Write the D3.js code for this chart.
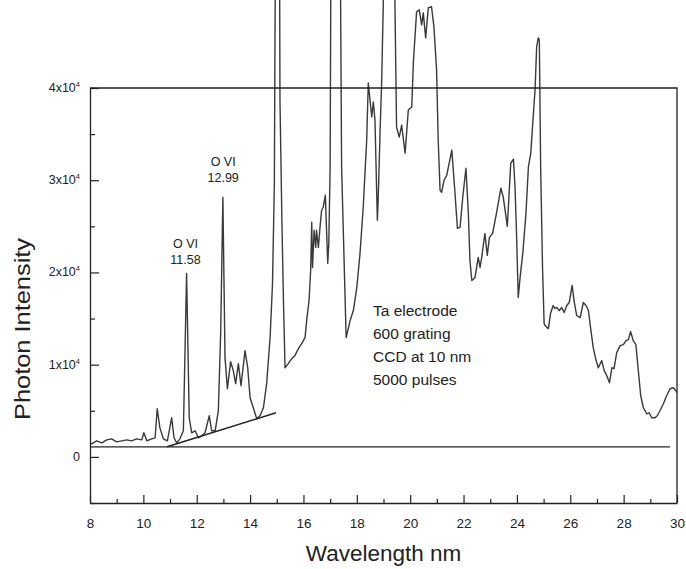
<!DOCTYPE html>
<html>
<head>
<meta charset="utf-8">
<script src="https://cdn.jsdelivr.net/npm/d3@7"></script>
<style>
  html, body { margin: 0; padding: 0; background: #fff; }
  svg { display: block; font-family: "Liberation Sans", Arial, sans-serif; }
</style>
</head>
<body>
<svg id="chart" width="686" height="569"></svg>
<script>
// ---- data ----
const wavelength = [
  8.00, 8.06, 8.25, 8.44, 8.63, 8.81, 9.00, 9.19, 9.38, 9.56, 9.75, 9.94, 10.02, 10.13, 10.31, 10.44,
  10.52, 10.62, 10.75, 10.90, 11.06, 11.15, 11.25, 11.37, 11.50, 11.62, 11.72, 11.81, 11.94, 12.06,
  12.19, 12.31, 12.47, 12.56, 12.69, 12.81, 12.90, 12.98, 13.06, 13.15, 13.27, 13.37, 13.46, 13.56,
  13.66, 13.81, 13.91, 14.00, 14.12, 14.25, 14.37, 14.50, 14.62, 14.75, 14.84, 14.91, 14.97, 15.09,
  15.12, 15.19, 15.25, 15.31, 15.43, 15.56, 15.68, 15.81, 15.93, 16.06, 16.12, 16.21, 16.27, 16.31,
  16.34, 16.40, 16.46, 16.49, 16.56, 16.62, 16.68, 16.74, 16.82, 16.87, 16.91, 16.95, 17.00, 17.05,
  17.35, 17.43, 17.60, 17.75, 17.87, 18.00, 18.12, 18.24, 18.37, 18.43, 18.56, 18.62, 18.68, 18.77,
  18.80, 18.87, 18.93, 18.99, 19.04, 19.38, 19.43, 19.49, 19.59, 19.68, 19.81, 19.93, 20.06, 20.12,
  20.24, 20.34, 20.43, 20.49, 20.58, 20.68, 20.80, 20.89, 20.99, 21.05, 21.12, 21.18, 21.27, 21.37,
  21.56, 21.68, 21.77, 21.87, 21.97, 22.09, 22.18, 22.24, 22.31, 22.43, 22.55, 22.62, 22.68, 22.80,
  22.89, 22.97, 23.09, 23.24, 23.40, 23.49, 23.64, 23.77, 23.87, 23.93, 23.99, 24.05, 24.12, 24.22,
  24.34, 24.43, 24.52, 24.61, 24.68, 24.74, 24.80, 24.84, 24.89, 24.96, 25.02, 25.05, 25.18, 25.26,
  25.36, 25.42, 25.49, 25.59, 25.68, 25.77, 25.87, 25.96, 26.07, 26.14, 26.24, 26.37, 26.49, 26.59,
  26.68, 26.76, 26.86, 26.97, 27.05, 27.18, 27.27, 27.37, 27.47, 27.56, 27.64, 27.74, 27.87, 27.99,
  28.09, 28.18, 28.26, 28.36, 28.46, 28.55, 28.64, 28.74, 28.87, 28.96, 29.05, 29.18, 29.26, 29.36,
  29.49, 29.61, 29.74, 29.86, 29.96, 30.00
];
const intensity = [
  1520, 1410, 1740, 1520, 1850, 1960, 1630, 1740, 1850, 1740, 1960, 1850, 2610, 1740, 1960, 2070,
  5220, 3150, 1960, 1740, 4240, 2070, 1520, 1960, 2830, 19900, 4240, 2610, 2830, 2070,
  2280, 2610, 4460, 2830, 2830, 5000, 13700, 28150, 10760, 7390, 10330, 9350, 7940, 10110,
  7720, 11520, 9670, 6410, 5330, 4130, 4460, 5330, 7940, 12940, 18800, 29680, 70000, 70000,
  38700, 25980, 16960, 9670, 10110, 10650, 10980, 11740, 12280, 12940, 14780, 16960, 20220, 25440,
  20540, 24570, 22720, 24570, 22720, 24890, 26740, 27070, 28370, 24240, 20980, 23150, 31410, 70000,
  70000, 31410, 12940, 14780, 15870, 18370, 22070, 27070, 34350, 40550, 36850, 38480, 36520, 25650,
  27830, 35110, 40550, 48810, 70000, 70000, 48810, 35760, 34680, 35980, 32940, 37610, 37940, 42830,
  48260, 48480, 46850, 48150, 45440, 48700, 48810, 46630, 41960, 34350, 28910, 28700, 30000, 30540,
  33260, 28590, 24780, 24890, 28150, 31300, 26410, 21300, 19130, 19460, 21630, 20540, 21630, 24240,
  21850, 23800, 24240, 26520, 29130, 28150, 25000, 31850, 32280, 29240, 23800, 17280, 19460, 22070,
  26410, 31410, 32940, 36850, 39780, 44460, 45440, 45220, 31410, 20540, 14460, 14240, 13910, 15540,
  16410, 16090, 16200, 15870, 16200, 15650, 16410, 16740, 18590, 16960, 15330, 15110, 16740, 16410,
  15870, 14020, 11850, 10440, 9670, 10440, 9350, 8800, 8040, 9670, 9570, 11300, 12070, 12170,
  12610, 12720, 13590, 12610, 12170, 9350, 6630, 5330, 4670, 4780, 4240, 4240, 4460, 5000,
  5760, 6630, 7390, 7500, 7170, 6960
];
// reference lines drawn on the plot
const baselineX = [8, 29.74];
const baselineY = [1090, 1090];
const slantX = [10.89, 14.97];
const slantY = [1090, 4780];

// axes
const xDomain = [8, 30];
const yDomain = [-5000, 40000];
const xMajorTicks = [8, 10, 12, 14, 16, 18, 20, 22, 24, 26, 28, 30];
const xMinorTicks = [9, 11, 13, 15, 17, 19, 21, 23, 25, 27, 29];
const yMajorTicks = [0, 10000, 20000, 30000, 40000];
const yMajorLabels = ["0", "1x10", "2x10", "3x10", "4x10"];
const yMajorExps = ["", "4", "4", "4", "4"];
const yMinorTicks = [-5000, 5000, 15000, 25000, 35000];

// annotations
const peakLabels = [
  { name: "O VI", value: "11.58", x: 11.58, y: 22600 },
  { name: "O VI", value: "12.99", x: 12.99, y: 31500 }
];
const infoLines = ["Ta electrode", "600 grating", "CCD at 10 nm", "5000 pulses"];
const xTitle = "Wavelength nm";
const yTitle = "Photon Intensity";

// ---- drawing ----
const W = 686, H = 569;
const margin = { left: 90, right: 9, top: 88, bottom: 66 };
const svg = d3.select("#chart");
const x = d3.scaleLinear().domain(xDomain).range([margin.left, W - margin.right]);
const y = d3.scaleLinear().domain(yDomain).range([H - margin.bottom, margin.top]);

const axisColor = "#222";
const textColor = "#222";

// data line
const pts = wavelength.map((w, i) => [w, intensity[i]]);
svg.append("path")
  .datum(pts)
  .attr("fill", "none")
  .attr("stroke", "#3a3a3a")
  .attr("stroke-width", 1.4)
  .attr("stroke-linejoin", "round")
  .attr("d", d3.line().x(d => x(d[0])).y(d => y(d[1])));

// baseline and slanted background line
const line2 = d3.line().x(d => x(d[0])).y(d => y(d[1]));
svg.append("path")
  .datum(baselineX.map((v, i) => [v, baselineY[i]]))
  .attr("fill", "none").attr("stroke", axisColor).attr("stroke-width", 1.3)
  .attr("d", line2);
svg.append("path")
  .datum(slantX.map((v, i) => [v, slantY[i]]))
  .attr("fill", "none").attr("stroke", axisColor).attr("stroke-width", 1.5)
  .attr("d", line2);

// frame top and right
svg.append("path")
  .datum([[xDomain[0], yDomain[1]], [xDomain[1], yDomain[1]], [xDomain[1], yDomain[0]]])
  .attr("fill", "none").attr("stroke", axisColor).attr("stroke-width", 1.3)
  .attr("d", line2);

// x axis
const gx = svg.append("g").attr("transform", `translate(0,${H - margin.bottom})`);
gx.call(d3.axisBottom(x).tickValues(xMajorTicks).tickSizeInner(-8).tickSizeOuter(0).tickPadding(15)
  .tickFormat(d3.format("d")));
const gxm = svg.append("g").attr("transform", `translate(0,${H - margin.bottom})`);
gxm.call(d3.axisBottom(x).tickValues(xMinorTicks).tickSizeInner(-4).tickSizeOuter(0).tickFormat(""));
gxm.select(".domain").remove();

// y axis
const gy = svg.append("g").attr("transform", `translate(${margin.left},0)`);
gy.call(d3.axisLeft(y).tickValues(yMajorTicks).tickSizeInner(-9).tickSizeOuter(0).tickPadding(18)
  .tickFormat(""));
const gym = svg.append("g").attr("transform", `translate(${margin.left},0)`);
gym.call(d3.axisLeft(y).tickValues(yMinorTicks).tickSizeInner(-5).tickSizeOuter(0).tickFormat(""));
gym.select(".domain").remove();

svg.selectAll(".domain").attr("stroke", axisColor).attr("stroke-width", 1.3);
svg.selectAll(".tick line").attr("stroke", axisColor).attr("stroke-width", 1.2);

gx.selectAll(".tick text")
  .attr("font-size", 13.5).attr("fill", textColor)
  .attr("font-family", "Liberation Sans, Arial, sans-serif");

// y tick labels with superscript exponent
yMajorTicks.forEach((t, i) => {
  const tx = svg.append("text")
    .attr("x", 80).attr("y", y(t) + 4)
    .attr("text-anchor", "end")
    .attr("font-size", 12.5).attr("fill", textColor);
  tx.append("tspan").text(yMajorLabels[i]);
  if (yMajorExps[i]) {
    tx.append("tspan").attr("font-size", 7.5).attr("dy", -5).text(yMajorExps[i]);
  }
});

// axis titles
svg.append("text")
  .attr("x", x((xDomain[0] + xDomain[1]) / 2)).attr("y", 561)
  .attr("text-anchor", "middle").attr("font-size", 22.5).attr("fill", textColor)
  .text(xTitle);
svg.append("text")
  .attr("transform", `translate(30,329) rotate(-90)`)
  .attr("text-anchor", "middle").attr("font-size", 22.5).attr("fill", textColor)
  .attr("textLength", 182).attr("lengthAdjust", "spacingAndGlyphs")
  .text(yTitle);

// peak annotations
peakLabels.forEach(p => {
  svg.append("text").attr("x", x(p.x)).attr("y", y(p.y))
    .attr("text-anchor", "middle").attr("font-size", 12.5).attr("fill", textColor)
    .text(p.name);
  svg.append("text").attr("x", x(p.x)).attr("y", y(p.y) + 16)
    .attr("text-anchor", "middle").attr("font-size", 12.5).attr("fill", textColor)
    .text(p.value);
});

// info block
infoLines.forEach((t, i) => {
  svg.append("text").attr("x", 373).attr("y", 316 + i * 23)
    .attr("font-size", 15.5).attr("fill", textColor)
    .text(t);
});
</script>
</body>
</html>
